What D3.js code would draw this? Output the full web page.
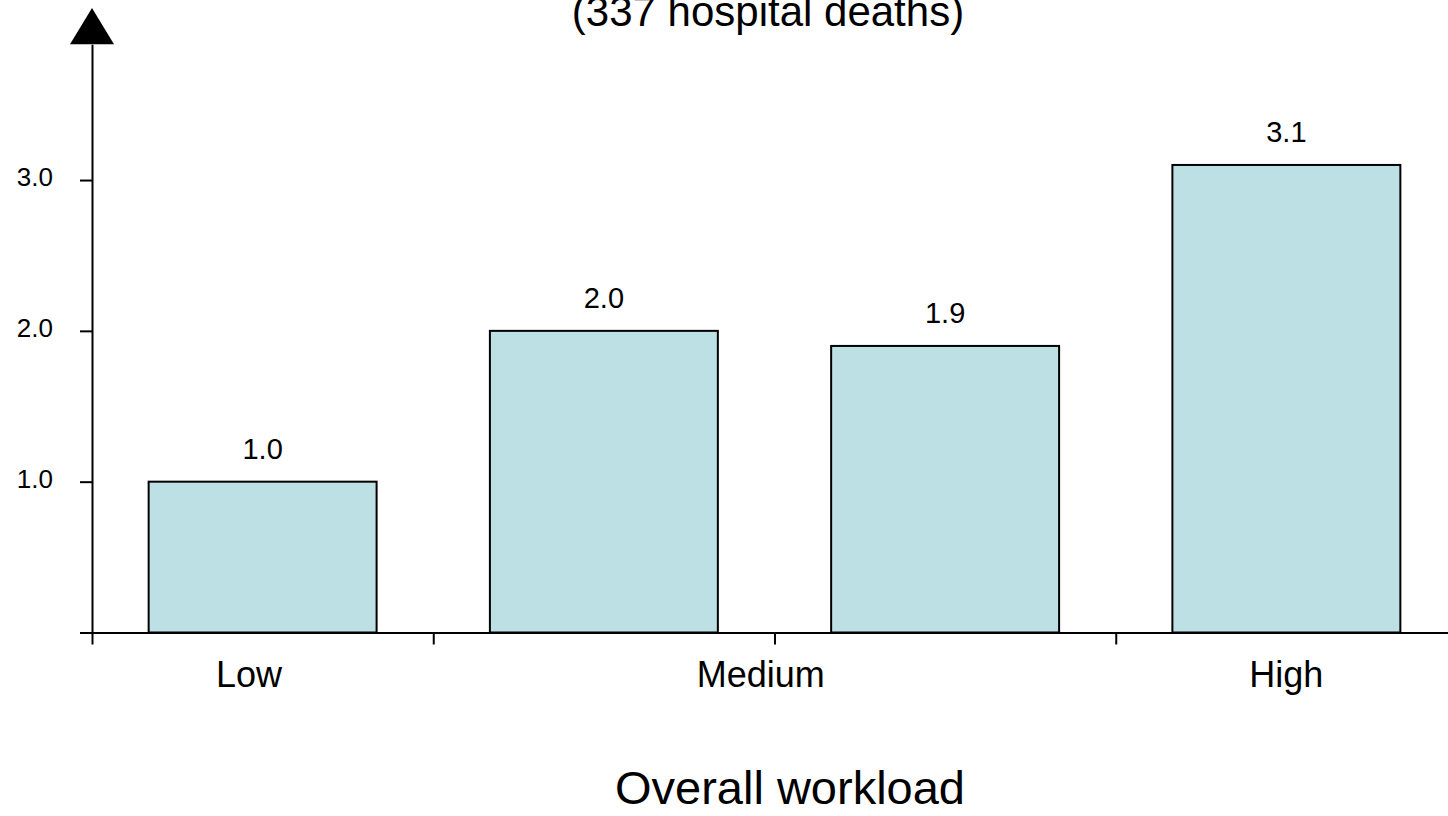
<!DOCTYPE html>
<html>
<head>
<meta charset="utf-8">
<script src="https://cdn.jsdelivr.net/npm/d3@7"></script>
<style>
    body { margin: 0; background: #ffffff; }
    svg text { font-family: "Liberation Sans", Arial, sans-serif; fill: #000; }
    .axis path, .axis line { stroke: #000; stroke-width: 2px; }
</style>
</head>
<body>
<svg id="chart" width="1448" height="816"></svg>
<script>
// data
var barPos = [0.5, 1.5, 2.5, 3.5];
var barValues = [1.0, 2.0, 1.9, 3.1];
var barLabels = ["1.0", "2.0", "1.9", "3.1"];
var categories = ["Low", "Medium", "High"];
var categoryPos = [0.46, 1.96, 3.5];
var yTicks = [0, 1, 2, 3];
var xTicks = [0, 1, 2, 3];
var titleText = "(337 hospital deaths)";
var xTitle = "Overall workload";

var svg = d3.select('#chart');
var width = 1448, height = 816;

var x = d3.scaleLinear().domain([0, 4]).range([92, 1457]);
var y = d3.scaleLinear().domain([0, 3.9]).range([632.5, 44.3]);
var barWidth = x(0.668) - x(0);

// bars
svg.append("g")
    .selectAll("rect")
    .data(barValues)
    .enter().append("rect")
    .attr("x", function(d, i) { return x(barPos[i]) - barWidth / 2; })
    .attr("y", function(d) { return y(d); })
    .attr("width", barWidth)
    .attr("height", function(d) { return y(0) - y(d); })
    .style("fill", "#bce0e3")
    .style("stroke", "#000")
    .style("stroke-width", 2);

// value labels
svg.append("g")
    .selectAll("text")
    .data(barValues)
    .enter().append("text")
    .attr("x", function(d, i) { return x(barPos[i]); })
    .attr("y", function(d) { return y(d) - 23; })
    .attr("text-anchor", "middle")
    .style("font-size", "29px")
    .text(function(d, i) { return barLabels[i]; });

// x axis
var xAxis = svg.append("g")
    .attr("class", "axis")
    .attr("transform", "translate(0," + y(0) + ")")
    .call(d3.axisBottom(x).tickValues(xTicks).tickFormat("").tickSize(12).tickSizeOuter(0));

// y axis
var yAxis = svg.append("g")
    .attr("class", "axis")
    .attr("transform", "translate(" + x(0) + ",0)")
    .call(d3.axisLeft(y).tickValues(yTicks).tickSize(12).tickSizeOuter(0).tickPadding(27)
        .tickFormat(function(d) { return d == 0 ? "" : d3.format(".1f")(d); }));
yAxis.selectAll("text")
    .attr("dy", "0.22em")
    .style("font-size", "26px")
    .style("font-family", '"Liberation Sans", Arial, sans-serif');

// arrow head on the y axis
svg.append("path")
    .attr("d", d3.line()([[x(0) - 22, y(3.9)], [x(0) + 22, y(3.9)], [x(0), 8]]) + "Z")
    .style("fill", "#000");

// category labels
svg.append("g")
    .selectAll("text")
    .data(categories)
    .enter().append("text")
    .attr("x", function(d, i) { return x(categoryPos[i]); })
    .attr("y", 687)
    .attr("text-anchor", "middle")
    .style("font-size", "36px")
    .text(function(d) { return d; });

// titles
svg.append("text")
    .attr("x", 768)
    .attr("y", 26)
    .attr("text-anchor", "middle")
    .style("font-size", "42px")
    .text(titleText);

svg.append("text")
    .attr("x", 790)
    .attr("y", 804)
    .attr("text-anchor", "middle")
    .style("font-size", "47px")
    .text(xTitle);
</script>
</body>
</html>
